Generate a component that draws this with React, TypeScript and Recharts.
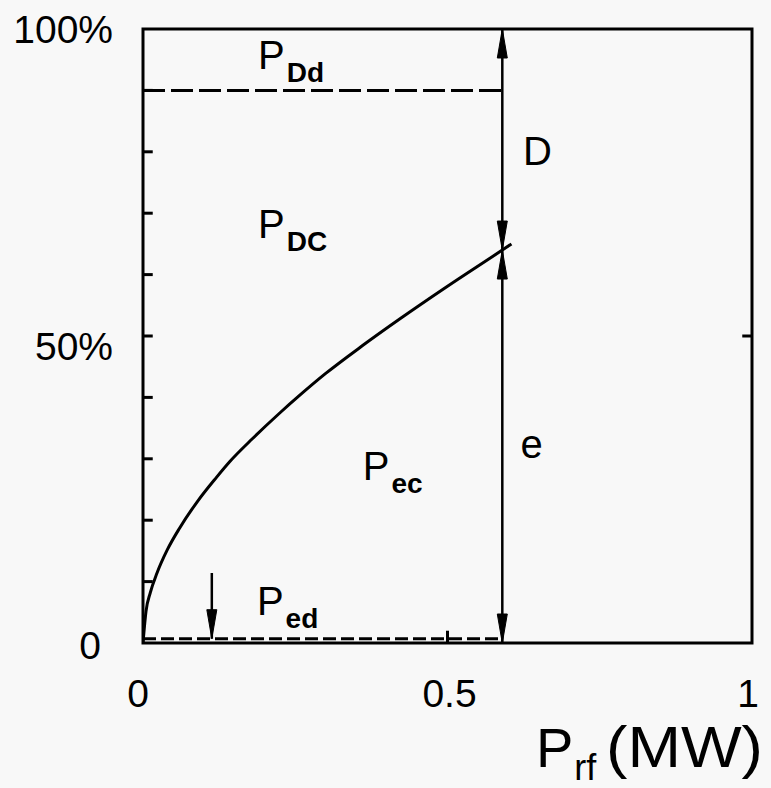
import React from 'react';
import {
  ComposedChart,
  Line,
  Scatter,
  XAxis,
  YAxis,
  ReferenceLine,
  ReferenceArea
} from 'recharts';

// P_ec / P_rf curve (x in MW, y in %)
const curveX = [0, 0.005, 0.012, 0.023, 0.04, 0.06, 0.089, 0.12, 0.143, 0.18, 0.225, 0.258, 0.3, 0.36, 0.422, 0.5, 0.59, 0.605];
const curveY = [0, 5.2, 8.2, 11.4, 15.2, 18.7, 23.0, 26.9, 29.6, 33.3, 37.5, 40.4, 43.9, 48.4, 52.8, 58.1, 64, 65];

// levels and marker positions
const pDd = 90;
const pEd = 0.7;
const prfMark = 0.59;
const smallArrowX = 0.113;
const smallArrowTop = 11.4;

const yTickValues = [0, 50, 100];
const yTickLabels = ['0', '50%', '100%'];
const xTickValues = [0, 0.5, 1];
const xTickLabels = ['0', '0.5', '1'];
const minorY = [10, 20, 30, 40, 50, 60, 70, 80, 90];

const arrows = [
  { x: prfMark, y: 100, dir: 'up' },
  { x: prfMark, y: 64, dir: 'down' },
  { x: prfMark, y: 64, dir: 'up' },
  { x: prfMark, y: 0, dir: 'down' },
  { x: smallArrowX, y: pEd, dir: 'down' }
];

const annotations = [
  { x: 0.189, y: 93.5, main: 'P', sub: 'Dd' },
  { x: 0.189, y: 66, main: 'P', sub: 'DC' },
  { x: 0.361, y: 26.5, main: 'P', sub: 'ec' },
  { x: 0.187, y: 4.6, main: 'P', sub: 'ed' },
  { x: 0.624, y: 77.9, main: 'D', sub: '' },
  { x: 0.62, y: 30.1, main: 'e', sub: '' }
];

const curveData = curveX.map((x, i) => ({ x, y: curveY[i] }));

const FONT = '"Liberation Sans", Arial, sans-serif';

const ArrowHead = (props: any) => {
  const { cx, cy, payload } = props;
  const len = 29;
  const hw = 5;
  const s = payload.dir === 'up' ? 1 : -1;
  const d = `M${cx},${cy} L${cx - hw},${cy + s * len} L${cx + hw},${cy + s * len} Z`;
  return <path d={d} fill="#000" stroke="#000" strokeWidth={1} />;
};

const Annotation = (props: any) => {
  const { cx, cy, payload } = props;
  return (
    <text x={cx} y={cy} fontFamily={FONT} fontSize={40} fill="#000">
      {payload.main}
      {payload.sub ? (
        <tspan dx={2} dy={13} fontSize={28} fontWeight="bold">
          {payload.sub}
        </tspan>
      ) : null}
    </text>
  );
};

const YTick = (props: any) => {
  const { x, y, payload } = props;
  const i = yTickValues.indexOf(payload.value);
  const label = yTickLabels[i];
  if (payload.value === 0) {
    return (
      <text x={x - 53} y={y + 16} textAnchor="middle" fontFamily={FONT} fontSize={39} fill="#000">
        {label}
      </text>
    );
  }
  const dy = payload.value === 100 ? 14 : 24;
  return (
    <text x={x - 30} y={y + dy} textAnchor="end" fontFamily={FONT} fontSize={39} fill="#000">
      {label}
    </text>
  );
};

const XTick = (props: any) => {
  const { x, y, payload } = props;
  const i = xTickValues.indexOf(payload.value);
  const shift = [-5, 2, -4][i];
  return (
    <text x={x + shift} y={y + 64} textAnchor="middle" fontFamily={FONT} fontSize={39} fill="#000">
      {xTickLabels[i]}
    </text>
  );
};

const XLabel = (props: any) => {
  const vb = props.viewBox || {};
  const right = vb.x + vb.width;
  const base = vb.y + 124;
  return (
    <g fontFamily={FONT} fill="#000">
      <text x={right - 216} y={base} fontSize={56}>
        P
        <tspan dx={1} dy={13} fontSize={36}>rf</tspan>
      </text>
      <text x={right - 146} y={base} fontSize={58} textLength={157} lengthAdjust="spacingAndGlyphs">
        (MW)
      </text>
    </g>
  );
};

const App = () => {
  return (
    <div style={{ position: 'absolute', left: 0, top: 0, width: 771, height: 788, background: '#f8f8f8' }}>
      <ComposedChart
        width={771}
        height={788}
        margin={{ top: 29, right: 19, bottom: 85, left: 83 }}
      >
        <XAxis
          type="number"
          dataKey="x"
          domain={[0, 1]}
          ticks={xTickValues}
          tick={<XTick />}
          tickSize={0}
          tickMargin={0}
          axisLine={false}
          tickLine={false}
          height={60}
          allowDataOverflow
          label={<XLabel />}
        />
        <YAxis
          type="number"
          dataKey="y"
          domain={[0, 100]}
          ticks={yTickValues}
          tick={<YTick />}
          tickSize={0}
          tickMargin={0}
          axisLine={false}
          tickLine={false}
          width={60}
          allowDataOverflow
        />

        <ReferenceArea x1={0} x2={1} y1={0} y2={100} fill="none" stroke="#000" strokeWidth={3} />

        {minorY.map((v) => (
          <ReferenceLine
            key={`yt-${v}`}
            segment={[{ x: 0, y: v }, { x: 0.016, y: v }]}
            stroke="#000"
            strokeWidth={3}
          />
        ))}
        <ReferenceLine segment={[{ x: 0.984, y: 50 }, { x: 1, y: 50 }]} stroke="#000" strokeWidth={3} />
        <ReferenceLine segment={[{ x: 0.5, y: 0 }, { x: 0.5, y: 2 }]} stroke="#000" strokeWidth={3} />

        <ReferenceLine
          segment={[{ x: 0, y: pDd }, { x: prfMark, y: pDd }]}
          stroke="#000"
          strokeWidth={3}
          strokeDasharray="22 6"
        />
        <ReferenceLine
          segment={[{ x: 0, y: pEd }, { x: prfMark, y: pEd }]}
          stroke="#000"
          strokeWidth={3}
          strokeDasharray="13 5"
        />
        <ReferenceLine
          segment={[{ x: prfMark, y: 0 }, { x: prfMark, y: 100 }]}
          stroke="#000"
          strokeWidth={2.5}
        />
        <ReferenceLine
          segment={[{ x: smallArrowX, y: pEd }, { x: smallArrowX, y: smallArrowTop }]}
          stroke="#000"
          strokeWidth={2.5}
        />

        <Line
          data={curveData}
          dataKey="y"
          type="monotone"
          stroke="#000"
          strokeWidth={3}
          dot={false}
          isAnimationActive={false}
        />
        <Scatter data={arrows} dataKey="y" shape={<ArrowHead />} isAnimationActive={false} />
        <Scatter data={annotations} dataKey="y" shape={<Annotation />} isAnimationActive={false} />
      </ComposedChart>
    </div>
  );
};

export default App;
